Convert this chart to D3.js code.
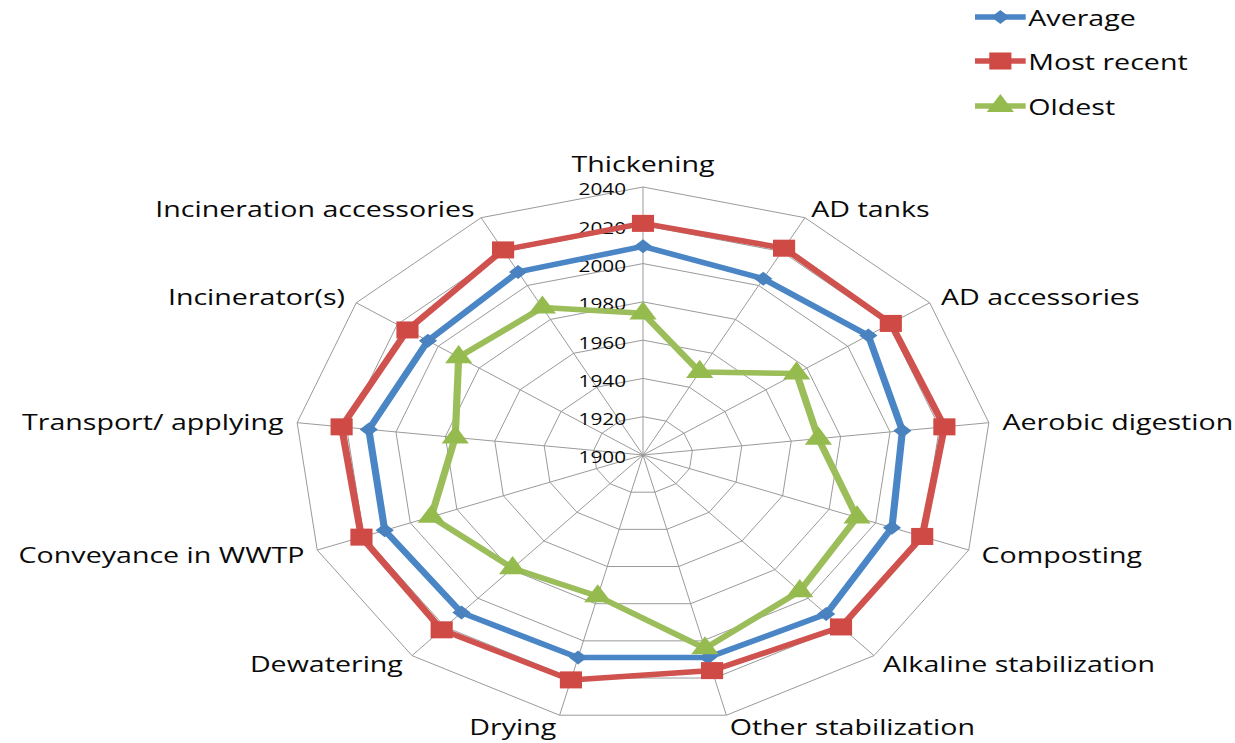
<!DOCTYPE html>
<html>
<head>
<meta charset="utf-8">
<script src="https://cdn.jsdelivr.net/npm/d3@7"></script>
<style>
  html, body { margin: 0; padding: 0; background: #ffffff; }
  svg { display: block; }
  text { font-family: "Open Sans", "Noto Sans", sans-serif; fill: #0a0a0a; }
</style>
</head>
<body>
<svg id="chart" width="1235" height="743"></svg>
<script>
// ---- Data ----
const categories = ["Thickening", "AD tanks", "AD accessories", "Aerobic digestion", "Composting",
  "Alkaline stabilization", "Other stabilization", "Drying", "Dewatering", "Conveyance in WWTP",
  "Transport/ applying", "Incinerator(s)", "Incineration accessories"];
const average    = [2009, 2004, 2010, 2005, 2007, 2011, 2009, 2009, 2010, 2011, 2011, 2005, 2008];
const mostRecent = [2021, 2022, 2021, 2022, 2020, 2020, 2016, 2021, 2022, 2021, 2022, 2015, 2021];
const oldest     = [1974, 1949, 1975, 1971, 1992, 1995, 2004, 1976, 1979, 1991, 1976, 1990, 1987];
const tickValues = [1900, 1920, 1940, 1960, 1980, 2000, 2020, 2040];
const seriesNames = ["Average", "Most recent", "Oldest"];

// ---- Layout (drawn un-stretched, then stretched horizontally like the reference) ----
const stretchX = 1.3;
const cx = 643 / stretchX, cy = 455;
const R = 268;
const r = d3.scaleLinear().domain([1900, 2040]).range([0, R]);
const step = 2 * Math.PI / categories.length;
const ang = i => i * step;
const px = (i, v) => cx + Math.sin(ang(i)) * r(v);
const py = (i, v) => cy - Math.cos(ang(i)) * r(v);

const svg = d3.select("#chart");
const root = svg.append("g").attr("transform", `scale(${stretchX},1)`);

const gridColor = "#9a9a9a";
// rings
const ringLine = d3.line();
tickValues.filter(t => t > 1900).forEach(t => {
  const pts = categories.map((c, i) => [px(i, t), py(i, t)]);
  root.append("path")
    .attr("d", ringLine(pts) + "Z")
    .attr("fill", "none")
    .attr("stroke", gridColor)
    .attr("stroke-width", 1)
    .attr("vector-effect", "non-scaling-stroke");
});
// spokes
categories.forEach((c, i) => {
  root.append("line")
    .attr("x1", cx).attr("y1", cy)
    .attr("x2", px(i, 2040)).attr("y2", py(i, 2040))
    .attr("stroke", gridColor).attr("stroke-width", 1)
    .attr("vector-effect", "non-scaling-stroke");
});

// tick labels
root.selectAll("text.tick").data(tickValues).enter().append("text")
  .attr("class", "tick")
  .attr("x", cx - 13)
  .attr("y", d => cy - r(d) + 2)
  .attr("text-anchor", "end")
  .attr("dominant-baseline", "central")
  .style("font-size", "16px")
  .text(d => d);

// category labels
categories.forEach((c, i) => {
  const s = Math.sin(ang(i)), co = Math.cos(ang(i));
  const x0 = px(i, 2040), y0 = py(i, 2040);
  let anchor = "middle", dx = 0, dy = -24;
  if (Math.abs(s) > 0.01) {
    anchor = s > 0 ? "start" : "end";
    dx = s * 10.5;
    dy = -co * 11;
  }
  root.append("text")
    .attr("x", x0 + dx)
    .attr("y", y0 + dy)
    .attr("text-anchor", anchor)
    .attr("dominant-baseline", "central")
    .style("font-size", "22px")
    .text(c);
});

// series
const colors = {
  "Average": { line: "#4a86c6", fill: "#4a82c0" },
  "Most recent": { line: "#d0524f", fill: "#d04a45" },
  "Oldest": { line: "#9bbd5a", fill: "#95bb4f" }
};
const seriesData = [average, mostRecent, oldest];
const lineGen = d3.lineRadial().angle((d, i) => ang(i)).radius(d => r(d)).curve(d3.curveLinearClosed);

const symbols = {
  "Average": d3.symbol().type(d3.symbolDiamond2 || d3.symbolDiamond).size(125),
  "Most recent": d3.symbol().type(d3.symbolSquare).size(290),
  "Oldest": d3.symbol().type(d3.symbolTriangle).size(190)
};

seriesNames.forEach((name, si) => {
  const vals = seriesData[si];
  const g = root.append("g").attr("transform", `translate(${cx},${cy})`);
  g.append("path")
    .attr("d", lineGen(vals))
    .attr("fill", "none")
    .attr("stroke", colors[name].line)
    .attr("stroke-width", 5.5)
    .attr("stroke-linejoin", "round");
});
seriesNames.forEach((name, si) => {
  const vals = seriesData[si];
  root.selectAll(null).data(vals).enter().append("path")
    .attr("transform", (d, i) => `translate(${px(i, d)},${py(i, d)})`)
    .attr("d", symbols[name]())
    .attr("fill", colors[name].fill);
});

// legend
const legY = [17, 61, 106];
seriesNames.forEach((name, si) => {
  const g = root.append("g").attr("transform", `translate(0,${legY[si]})`);
  g.append("line")
    .attr("x1", 750).attr("x2", 789).attr("y1", 0).attr("y2", 0)
    .attr("stroke", colors[name].line).attr("stroke-width", 5.5);
  g.append("path")
    .attr("transform", "translate(769.5,0)")
    .attr("d", symbols[name]())
    .attr("fill", colors[name].fill);
  g.append("text")
    .attr("x", 791).attr("y", 0)
    .attr("dominant-baseline", "central")
    .style("font-size", "22px")
    .text(name);
});
</script>
</body>
</html>
